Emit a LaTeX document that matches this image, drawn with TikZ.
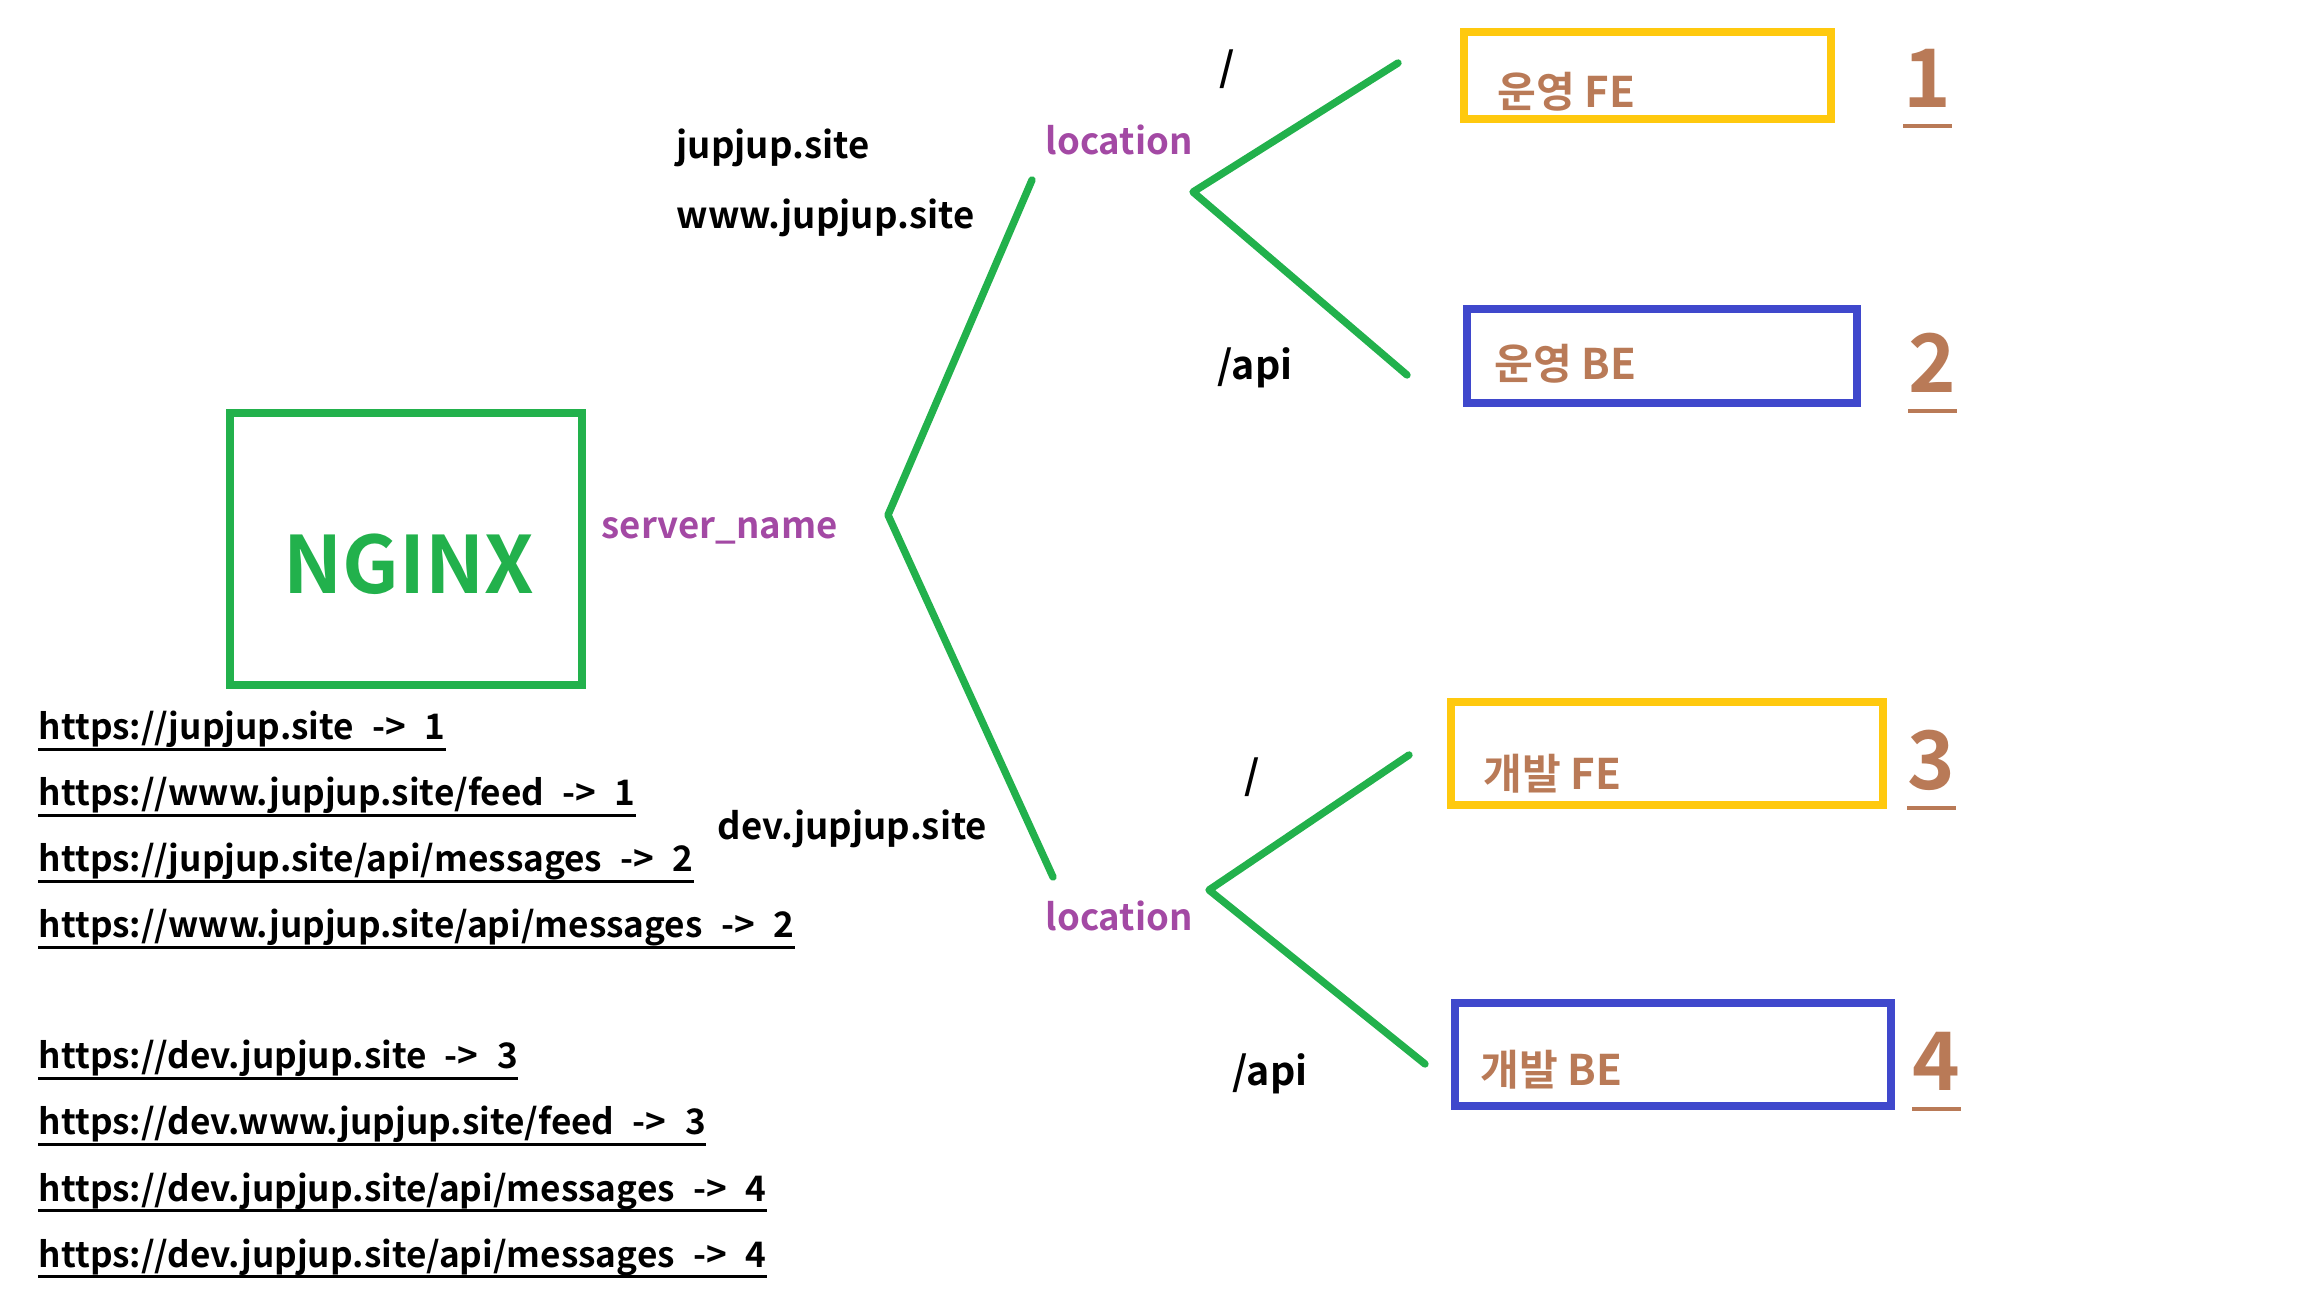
\documentclass[tikz,border=0pt]{standalone}
\usepackage{fontspec}
\setmainfont{Noto Sans CJK KR}[BoldFont={Noto Sans CJK KR Bold}]
\newfontfamily\urlfont{Noto Sans CJK KR Bold}[WordSpace=2.3]
\definecolor{paintgreen}{HTML}{22B14C}
\definecolor{paintpurple}{HTML}{A349A4}
\definecolor{paintyellow}{HTML}{FFC90E}
\definecolor{paintblue}{HTML}{3F48CC}
\definecolor{paintbrown}{HTML}{B97A57}
\begin{document}
\begin{tikzpicture}[x=0.1mm, y=-0.1mm,
  txt/.style={anchor=base west, inner sep=0pt, font=\fontsize{10.4}{13}\selectfont\bfseries},
  path/.style={txt, font=\fontsize{11.2}{13}\selectfont\bfseries},
  key/.style={txt, text=paintpurple},
  url/.style={anchor=base west, inner sep=0pt, font=\fontsize{10}{12}\urlfont},
  boxlbl/.style={txt, text=paintbrown, font=\fontsize{12}{14}\selectfont\bfseries},
  num/.style={anchor=base west, inner sep=0pt, text=paintbrown, font=\fontsize{23}{26}\selectfont\bfseries},
  branch/.style={paintgreen, line width=2.1pt, line cap=round, line join=round},
  fe/.style={draw=paintyellow, line width=2.3pt, inner sep=0pt},
  be/.style={draw=paintblue, line width=2.3pt, inner sep=0pt}]
  \useasboundingbox (0,0) rectangle (2304,1296);

  % nginx
  \node[draw=paintgreen, line width=2.3pt, minimum width=35.2mm, minimum height=27.2mm] (nginx) at (406,549) {};
  \node[anchor=base, inner sep=0pt, text=paintgreen, font=\fontsize{22.5}{26}\selectfont\bfseries] (nginxlbl) at (409,594) {NGINX};
  \node[key] (srvname) at (601,539) {server\_name};

  % server_name tree
  \coordinate (srv) at (888,515);
  \coordinate (prod) at (1032,180);
  \coordinate (dev) at (1053,877);
  \draw[branch] (prod) -- (srv) -- (dev);
  \node[txt] (host1) at (676,159) {jupjup.site};
  \node[txt] (host2) at (676,229) {www.jupjup.site};
  \node[txt] (host3) at (717,840) {dev.jupjup.site};

  % location, prod
  \node[key] (loc1) at (1045,155) {location};
  \coordinate (pv) at (1193,192);
  \coordinate (pfe) at (1398,63);
  \coordinate (pbe) at (1407,375);
  \draw[branch] (pfe) -- (pv) -- (pbe);
  \node[path] (slash1) at (1219,82) {/};
  \node[path] (api1) at (1217,380) {/api};

  % location, dev
  \node[key] (loc2) at (1045,931) {location};
  \coordinate (dv) at (1209,890);
  \coordinate (dfe) at (1409,755);
  \coordinate (dbe) at (1425,1064);
  \draw[branch] (dfe) -- (dv) -- (dbe);
  \node[path] (slash2) at (1244,790) {/};
  \node[path] (api2) at (1232,1086) {/api};

  % targets
  \node[fe, minimum width=36.7mm, minimum height=8.7mm] (box1) at (1647.5,75.5) {};
  \node[be, minimum width=39.0mm, minimum height=9.4mm] (box2) at (1662,356) {};
  \node[fe, minimum width=43.2mm, minimum height=10.3mm] (box3) at (1667,753.5) {};
  \node[be, minimum width=43.6mm, minimum height=10.3mm] (box4) at (1673,1054.5) {};
  \node[boxlbl] (lbl1) at (1497,108) {운영 FE};
  \node[boxlbl] (lbl2) at (1494,380) {운영 BE};
  \node[boxlbl] (lbl3) at (1483,790) {개발 FE};
  \node[boxlbl] (lbl4) at (1480,1086) {개발 BE};

  \foreach \n/\xx/\yy in {1/1903/108, 2/1908/393, 3/1907/790, 4/1912/1091} {
    \node[num] (num\n) at (\xx,\yy) {\n};
    \draw[paintbrown, line width=1.3pt] ([yshift=-5.1pt]num\n.base west) -- ([yshift=-5.1pt]num\n.base east);
  }

  % urls
  \foreach \yy/\addr [count=\i] in {740/{https://jupjup.site -> 1}, 806/{https://www.jupjup.site/feed -> 1},
      872/{https://jupjup.site/api/messages -> 2}, 938/{https://www.jupjup.site/api/messages -> 2},
      1069/{https://dev.jupjup.site -> 3}, 1135/{https://dev.www.jupjup.site/feed -> 3},
      1201/{https://dev.jupjup.site/api/messages -> 4}, 1267/{https://dev.jupjup.site/api/messages -> 4}} {
    \node[url] (url\i) at (38,\yy) {\addr};
    \draw[line width=0.85pt] ([yshift=-2.6pt]url\i.base west) -- ([yshift=-2.6pt]url\i.base east);
  }
\end{tikzpicture}
\end{document}
